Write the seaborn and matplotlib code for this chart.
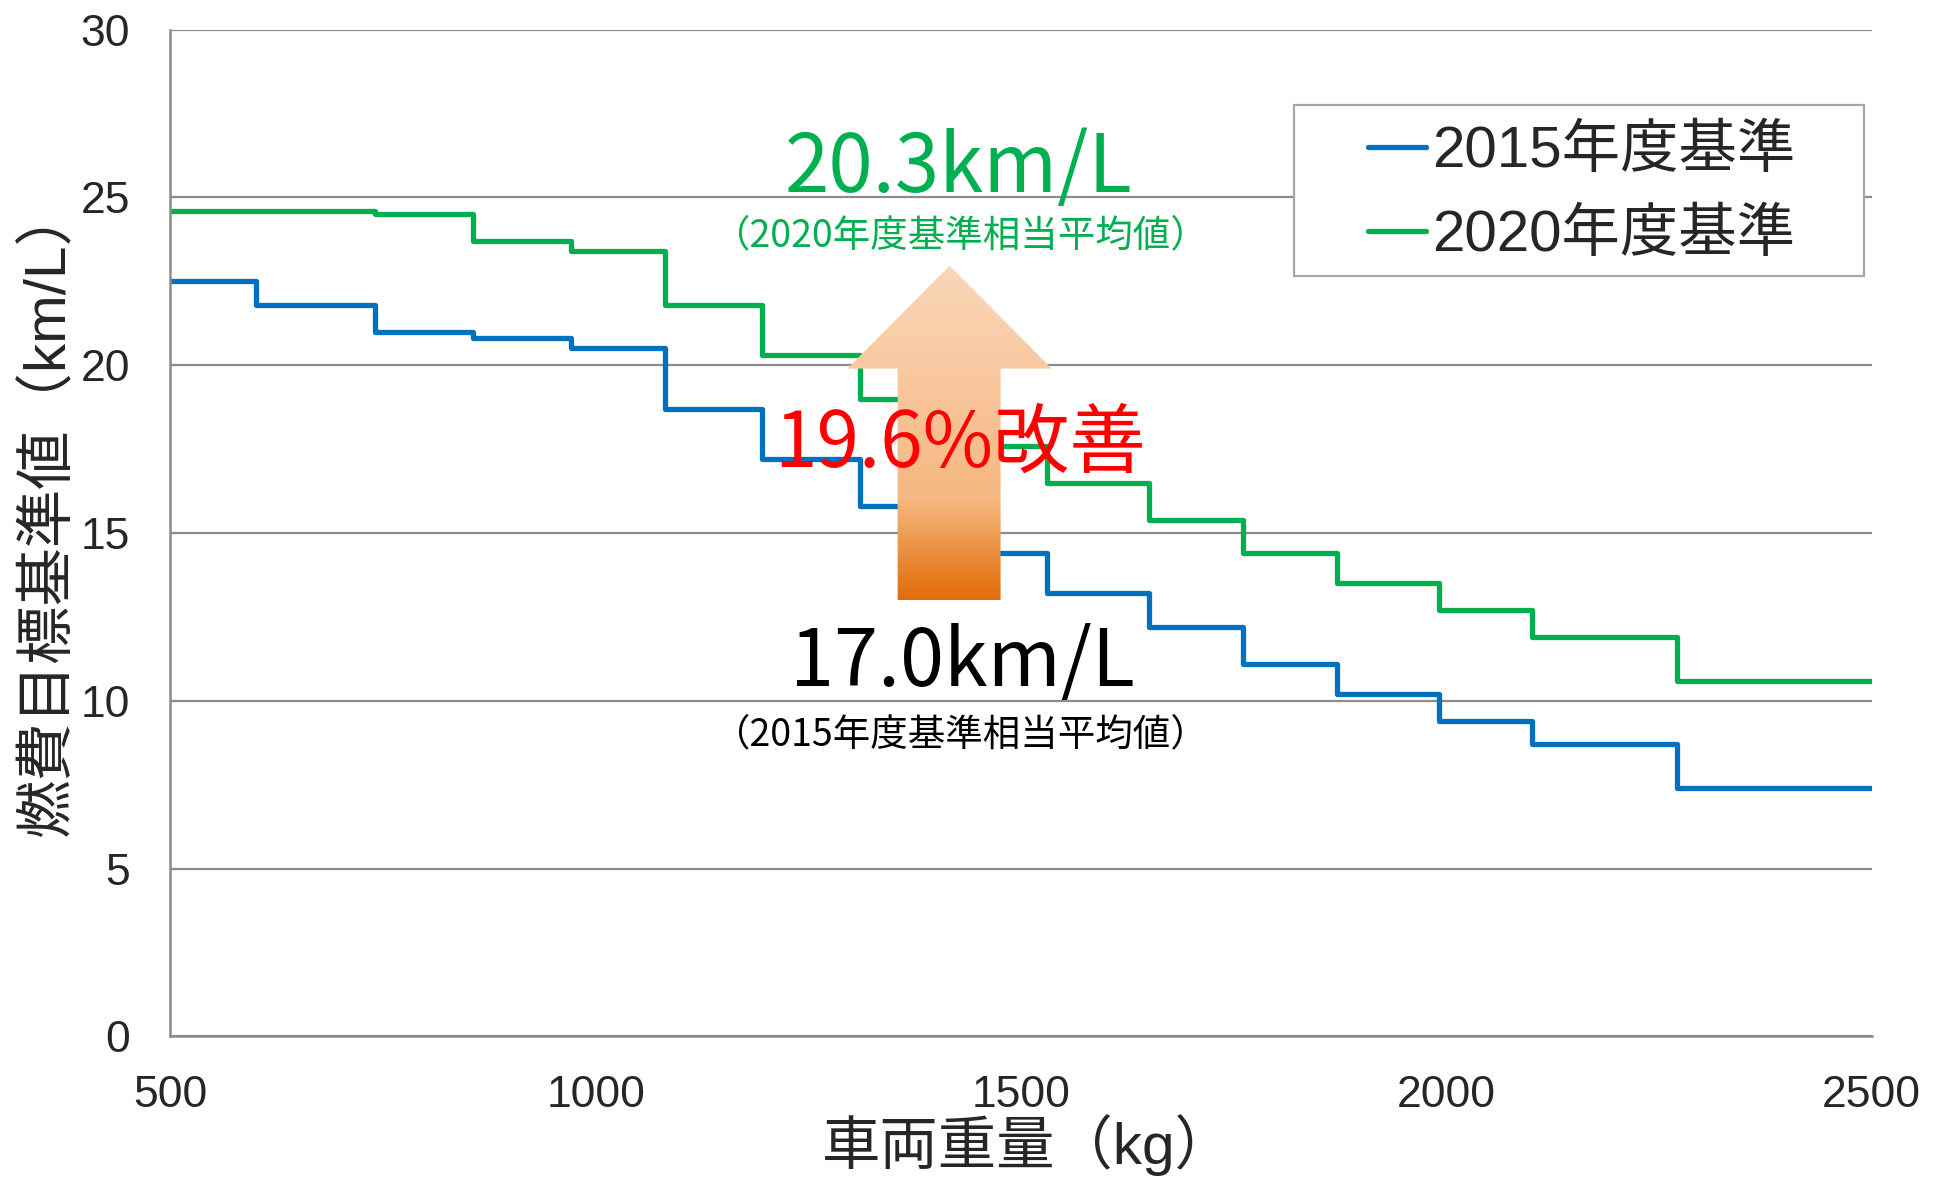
import numpy as np
import pandas as pd
import matplotlib
matplotlib.use("Agg")
import matplotlib.pyplot as plt
from matplotlib.patches import Polygon, Rectangle
from matplotlib.colors import LinearSegmentedColormap
from matplotlib.ticker import MultipleLocator
import seaborn as sns

# 車両重量区分の境界 (kg) と各区分の燃費基準値 (km/L)
weight_edges = [500, 601, 741, 856, 971, 1081, 1196, 1311, 1421, 1531,
                1651, 1761, 1871, 1991, 2101, 2271, 2500]
std_2015 = [22.5, 21.8, 21.0, 20.8, 20.5, 18.7, 17.2, 15.8, 14.4, 13.2,
            12.2, 11.1, 10.2, 9.4, 8.7, 7.4, 7.4]
std_2020 = [24.6, 24.6, 24.5, 23.7, 23.4, 21.8, 20.3, 19.0, 17.6, 16.5,
            15.4, 14.4, 13.5, 12.7, 11.9, 10.6, 10.6]
series_labels = ["2015年度基準", "2020年度基準"]
series_colors = ["#0070C0", "#00B050"]

avg_2015 = 17.0
avg_2020 = 20.3
improvement_pct = 19.6

x_ticks = [500, 1000, 1500, 2000, 2500]
y_ticks = [0, 5, 10, 15, 20, 25, 30]

df = pd.DataFrame({
    "車両重量": weight_edges * 2,
    "燃費": std_2015 + std_2020,
    "基準": [series_labels[0]] * len(weight_edges) + [series_labels[1]] * len(weight_edges),
})

sns.set_style("white")
plt.rcParams["font.family"] = ["Liberation Sans", "Noto Sans CJK JP", "DejaVu Sans"]
LATIN_CJK = ["Liberation Sans", "Noto Sans CJK JP", "DejaVu Sans"]
CJK = ["Noto Sans CJK JP", "DejaVu Sans"]

W, H = 1935, 1181
fig = plt.figure(figsize=(W / 100, H / 100), dpi=100)
ax_l, ax_r, ax_t, ax_b = 170.3, 1871.7, 29.6, 1036.4
ax = fig.add_axes([ax_l / W, 1 - ax_b / H, (ax_r - ax_l) / W, (ax_b - ax_t) / H])


def ax_fx(px):
    return (px - ax_l) / (ax_r - ax_l)


def ax_fy(py):
    return (ax_b - py) / (ax_b - ax_t)


sns.lineplot(
    data=df, x="車両重量", y="燃費", hue="基準",
    palette=dict(zip(series_labels, series_colors)),
    estimator=None, sort=False, drawstyle="steps-post",
    linewidth=3.8, legend=False, ax=ax, zorder=2,
)

ax.set_xlim(500, 2500)
ax.set_ylim(0, 30)
ax.set_xticks(x_ticks)
ax.xaxis.set_minor_locator(MultipleLocator(100))
ax.set_yticks(y_ticks)

grid_color = "#8C8C8C"
ax.yaxis.grid(True, color=grid_color, linewidth=1.6)
ax.xaxis.grid(False)
ax.set_axisbelow(True)
for side in ["top", "right"]:
    ax.spines[side].set_visible(False)
for side in ["left", "bottom"]:
    ax.spines[side].set_color(grid_color)
    ax.spines[side].set_linewidth(1.8)

ax.tick_params(axis="x", which="both", direction="in", length=7.5, width=1.2,
               color=grid_color, pad=28, labelsize=32)
ax.tick_params(axis="y", which="both", length=0, pad=29, labelsize=32)

ax.set_xlabel("車両重量（kg）", fontsize=42, family=LATIN_CJK)
ax.set_ylabel("燃費目標基準値（km/L）", fontsize=42, family=LATIN_CJK)
ax.xaxis.label.set(ha="center", va="center")
ax.yaxis.label.set(ha="center", va="center")
ax.xaxis.set_label_coords(ax_fx(1028), ax_fy(1145))
ax.yaxis.set_label_coords(ax_fx(49), ax_fy(511))

# グラデーションの上向き矢印
shaft_l, shaft_r, head_l, head_r, tip_x = 1355, 1476, 1296, 1536, 1416
y_bottom, y_head, y_tip = 13.0, 19.9, 22.96
arrow = Polygon(
    [(shaft_l, y_bottom), (shaft_r, y_bottom), (shaft_r, y_head), (head_r, y_head),
     (tip_x, y_tip), (head_l, y_head), (shaft_l, y_head)],
    closed=True, facecolor="none", edgecolor="none", transform=ax.transData,
)
ax.add_patch(arrow)
grad_cmap = LinearSegmentedColormap.from_list(
    "arrow_grad",
    [(0.0, "#E36C09"), (0.12, "#EA8A35"), (0.30, "#F5B781"),
     (0.55, "#F8C295"), (1.0, "#FAD7B8")],
)
grad = np.linspace(0, 1, 256).reshape(-1, 1)
img = ax.imshow(grad, cmap=grad_cmap, origin="lower", aspect="auto",
                extent=[head_l, head_r, y_bottom, y_tip], zorder=3,
                interpolation="bilinear")
img.set_clip_path(arrow)
ax.set_xlim(500, 2500)
ax.set_ylim(0, 30)

# 平均値と改善率の注記
cx = 1427
ax.text(cx, 25.17, f"{avg_2020:.1f}km/L", color="#00B050", fontsize=57.5,
        family=CJK, ha="center", va="baseline", zorder=4)
ax.text(cx + 2, 23.53, "（2020年度基準相当平均値）", color="#00B050", fontsize=27,
        family=CJK, ha="center", va="baseline", zorder=4)
ax.text(cx + 2, 16.98, f"{improvement_pct:.1f}%改善", color="#FF0000", fontsize=55,
        family=CJK, ha="center", va="baseline", zorder=5)
ax.text(cx + 4, 10.44, f"{avg_2015:.1f}km/L", color="black", fontsize=57,
        family=CJK, ha="center", va="baseline", zorder=4)
ax.text(cx + 2, 8.68, "（2015年度基準相当平均値）", color="black", fontsize=27,
        family=CJK, ha="center", va="baseline", zorder=4)

# 凡例 (枠は別に描く)
leg_frame = Rectangle(
    (ax_fx(1294), ax_fy(276)), ax_fx(1864) - ax_fx(1294), ax_fy(105) - ax_fy(276),
    transform=ax.transAxes, facecolor="white", edgecolor="#A6A6A6",
    linewidth=1.6, zorder=6,
)
ax.add_patch(leg_frame)
leg = ax.legend(
    handles=ax.lines[:2], labels=series_labels,
    loc="upper left", bbox_to_anchor=(ax_fx(1368), ax_fy(125)),
    prop={"family": LATIN_CJK, "size": 42},
    frameon=False, handlelength=1.0, handletextpad=0.1, borderpad=0,
    labelspacing=0.51, borderaxespad=0,
)
leg.set_zorder(7)
for line in leg.get_lines():
    line.set_linewidth(3.8)
    line.set_solid_capstyle("round")

fig.savefig("out.png", dpi=100)
